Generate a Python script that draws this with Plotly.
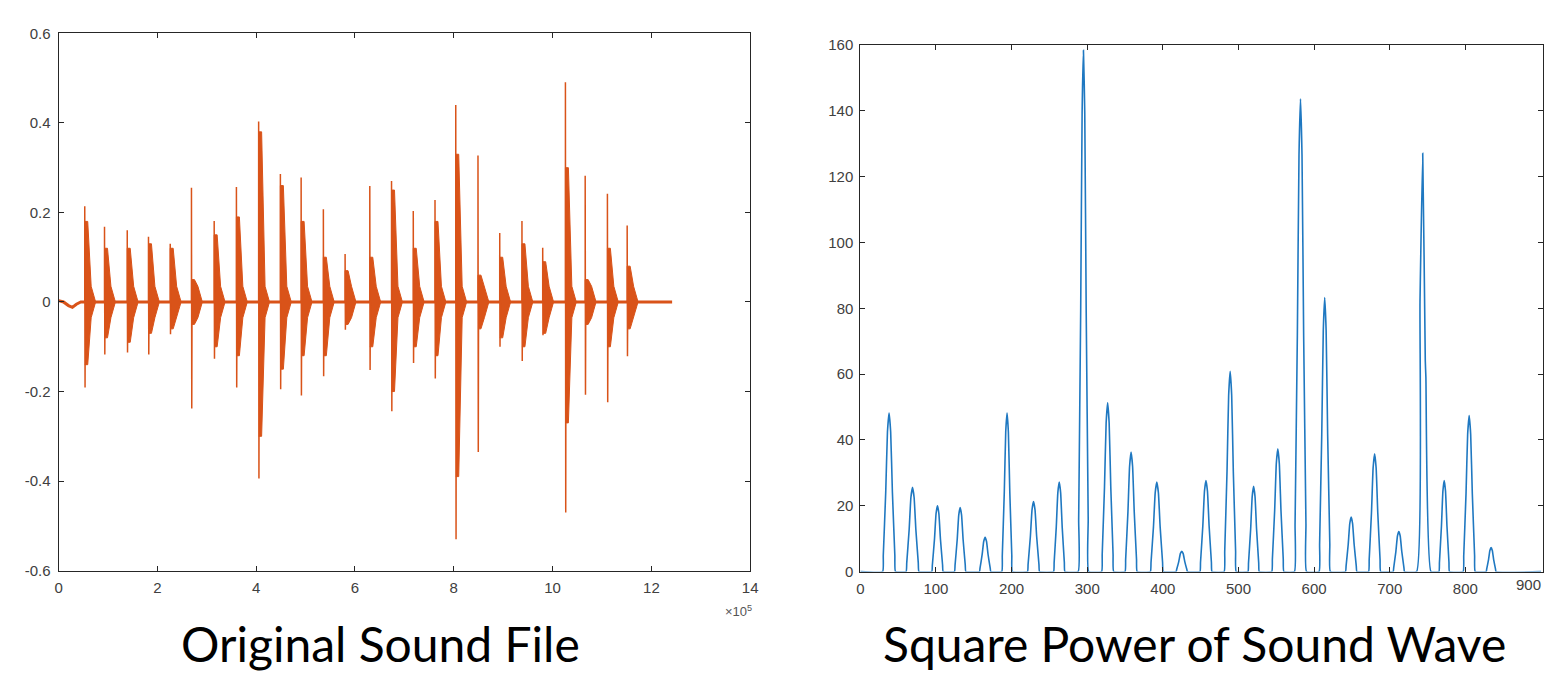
import plotly.graph_objects as go

# ---------------- Left panel data: sound waveform bursts (x in units of 1e5 samples)
burst_x = [0.53, 0.93, 1.39, 1.82, 2.26, 2.69, 3.15, 3.60, 4.05, 4.49, 4.91, 5.36, 5.80,
           6.30, 6.74, 7.18, 7.62, 8.04, 8.49, 8.93, 9.38, 9.80, 10.26, 10.66, 11.11, 11.51]
burst_max = [0.214, 0.168, 0.160, 0.146, 0.130, 0.255, 0.181, 0.257, 0.403, 0.286, 0.278, 0.207, 0.107,
             0.259, 0.270, 0.203, 0.228, 0.440, 0.327, 0.154, 0.181, 0.121, 0.491, 0.282, 0.242, 0.171]
burst_min = [-0.191, -0.117, -0.113, -0.117, -0.072, -0.238, -0.127, -0.191, -0.394, -0.195, -0.209, -0.166, -0.062,
             -0.152, -0.244, -0.136, -0.171, -0.530, -0.335, -0.100, -0.132, -0.074, -0.470, -0.207, -0.224, -0.121]
body_max = [0.18, 0.12, 0.12, 0.13, 0.12, 0.05, 0.15, 0.19, 0.38, 0.26, 0.18, 0.10, 0.07,
            0.10, 0.25, 0.12, 0.18, 0.33, 0.06, 0.10, 0.13, 0.09, 0.30, 0.05, 0.12, 0.08]
body_min = [-0.14, -0.08, -0.09, -0.07, -0.06, -0.05, -0.10, -0.12, -0.30, -0.15, -0.12, -0.12, -0.05,
            -0.10, -0.20, -0.10, -0.12, -0.39, -0.06, -0.08, -0.10, -0.07, -0.27, -0.05, -0.10, -0.06]
tail_amp = 0.035
baseline_x = [0.0, 0.10, 0.20, 0.28, 0.36, 0.45, 12.42]
baseline_y = [0.003, 0.0, -0.008, -0.012, -0.005, 0.0, 0.0]

# ---------------- Right panel data: square power peaks
peak_x = [38, 69, 102, 132, 165, 194, 229, 263, 295, 327, 358, 392, 425,
          457, 489, 520, 552, 582, 614, 649, 680, 712, 772, 805, 834]
peak_h = [48.2, 25.6, 20.0, 19.5, 10.4, 48.2, 21.3, 27.2, 158.4, 51.3, 36.3, 27.2, 6.2,
          27.7, 60.9, 25.9, 37.3, 143.7, 83.3, 16.6, 35.8, 12.2, 27.7, 47.4, 7.3]
peak_hw = [8.5, 8.5, 7.5, 7.5, 7.5, 7, 8, 7.5, 7, 8, 8, 8.5, 7.5,
           8, 8, 7.5, 8, 8, 7.5, 7.5, 8, 7.5, 7, 8, 6.5]
# peak near 744 with its shoulder and notch, point by point
notched_x = [735.5, 740.0, 743.6, 747.0, 747.8, 754.5]
notched_y = [0.0, 82.0, 127.1, 64.0, 59.0, 0.0]
power_end = 900

x_ticks_left = [0, 2, 4, 6, 8, 10, 12, 14]
y_ticks_left = [0.6, 0.4, 0.2, 0, -0.2, -0.4, -0.6]
y_ticklabels_left = ["0.6", "0.4", "0.2", "0", "-0.2", "-0.4", "-0.6"]
x_ticks_right = [0, 100, 200, 300, 400, 500, 600, 700, 800]
x_last_label_right = "900"
y_ticks_right = [0, 20, 40, 60, 80, 100, 120, 140, 160]

ORANGE = "#D95319"
BLUE = "#1f78c1"

# drawing template for one hump: (fraction of half-width, fraction of height)
HUMP = [(-1.0, 0.0), (-0.9, 0.1), (-0.52, 0.5), (-0.25, 0.88), (0.0, 1.0),
        (0.25, 0.88), (0.52, 0.5), (0.9, 0.1), (1.0, 0.0)]

# spikes (thin lines) and bodies (filled spindles) of each burst
spx, spy, bx, by = [], [], [], []
for i, x0 in enumerate(burst_x):
    spx += [x0, x0, x0 + 0.006, x0 + 0.012, None]
    spy += [0.0, burst_max[i], burst_min[i], 0.0, None]
    bx += [x0, x0, x0 + 0.06, x0 + 0.13, x0 + 0.22, x0 + 0.13, x0 + 0.06, x0, None]
    by += [0.0, body_max[i], body_max[i], tail_amp, 0.0, -tail_amp, body_min[i], body_min[i], None]

# power curve
pts = [(0.0, 0.0), (float(power_end), 0.0)]
for px, h, hw in zip(peak_x, peak_h, peak_hw):
    pts += [(px + fx_ * hw, fy_ * h) for fx_, fy_ in HUMP]
pts += list(zip(notched_x, notched_y))
pts.sort(key=lambda p: p[0])
rx = [p[0] for p in pts]
ry = [p[1] for p in pts]

W, H = 1551, 681


def fx(px):
    return px / W


def fy(py):
    return 1 - py / H


# right panel: 0 at pixel 863, 900 at pixel 1549; domain runs to the picture edge
R0, R900 = 863, 1549
right_xmax = 900 * (W - R0) / (R900 - R0)

fig = go.Figure()
fig.add_trace(go.Scatter(x=baseline_x, y=baseline_y, mode="lines",
                         line=dict(color=ORANGE, width=3), xaxis="x", yaxis="y", showlegend=False))
fig.add_trace(go.Scatter(x=bx, y=by, mode="lines", fill="toself", fillcolor=ORANGE,
                         line=dict(color=ORANGE, width=1), xaxis="x", yaxis="y", showlegend=False))
fig.add_trace(go.Scatter(x=spx, y=spy, mode="lines",
                         line=dict(color=ORANGE, width=1.5), xaxis="x", yaxis="y", showlegend=False))
fig.add_trace(go.Scatter(x=rx, y=ry, mode="lines",
                         line=dict(color=BLUE, width=1.6, shape="spline", smoothing=0.4),
                         xaxis="x2", yaxis="y2", showlegend=False))

tickfont = dict(family="Liberation Sans, Arial, sans-serif", size=15, color="#404040")
axis_common = dict(showline=True, linecolor="#262626", linewidth=1, mirror="ticks",
                   ticks="inside", ticklen=5, tickcolor="#262626", showgrid=False,
                   zeroline=False, tickfont=tickfont)

fig.update_layout(
    width=W, height=H, autosize=False, margin=dict(l=0, r=0, t=0, b=0, pad=0),
    paper_bgcolor="white", plot_bgcolor="white",
    xaxis=dict(domain=[fx(55), fx(752)], range=[0, 14], tickvals=x_ticks_left,
               anchor="y", ticklabelstandoff=3, **axis_common),
    yaxis=dict(domain=[fy(576), fy(25)], range=[-0.6, 0.6], tickvals=y_ticks_left,
               ticktext=y_ticklabels_left, anchor="x", ticklabelstandoff=4, **axis_common),
    xaxis2=dict(domain=[fx(R0), 1.0], range=[0, right_xmax], tickvals=x_ticks_right,
                anchor="y2", ticklabelstandoff=3, **axis_common),
    yaxis2=dict(domain=[fy(577), fy(37)], range=[0, 160], tickvals=y_ticks_right,
                anchor="x2", ticklabelstandoff=3, **axis_common),
)

# last right-panel x tick label, kept inside the picture edge
fig.add_annotation(x=1.0, y=fy(590), xref="paper", yref="paper",
                   text=x_last_label_right, showarrow=False, xanchor="right", yanchor="middle",
                   font=tickfont)
fig.add_annotation(x=fx(740), y=fy(617), xref="paper", yref="paper",
                   text="×10<sup>5</sup>", showarrow=False, xanchor="center", yanchor="middle",
                   font=dict(family="Liberation Sans, Arial, sans-serif", size=13, color="#555555"))
title_font = dict(family="Lato, Open Sans, sans-serif", size=48, color="black")
fig.add_annotation(x=fx(379), y=fy(651), xref="paper", yref="paper",
                   text="Original Sound File", showarrow=False, xanchor="center", yanchor="middle",
                   font=title_font)
fig.add_annotation(x=fx(1200), y=fy(651), xref="paper", yref="paper",
                   text="Square Power of Sound Wave", showarrow=False, xanchor="center", yanchor="middle",
                   font=title_font)

fig.write_html("out.html",
               config={"displayModeBar": False, "responsive": False},
               post_script="document.body.style.margin='0px';document.body.style.overflow='hidden';")
